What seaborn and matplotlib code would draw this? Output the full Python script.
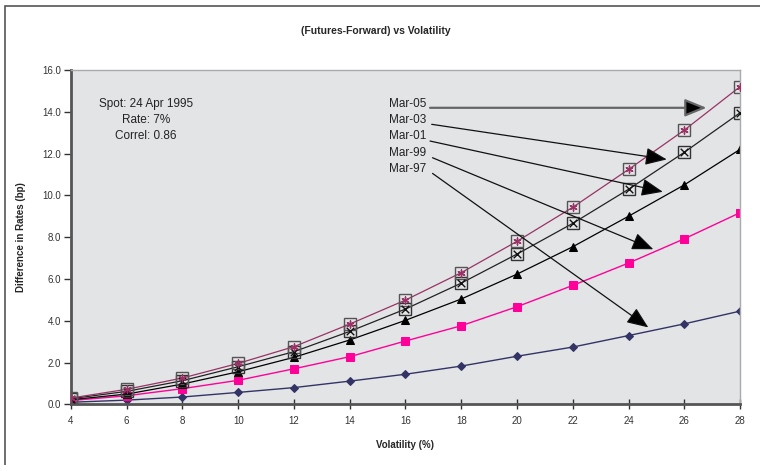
import matplotlib
matplotlib.use("Agg")
import matplotlib.pyplot as plt
from matplotlib.patches import Rectangle
import seaborn as sns

# Volatility levels (%) on the x axis
volatility = [4, 6, 8, 10, 12, 14, 16, 18, 20, 22, 24, 26, 28]

# Futures-forward rate difference (bp) per contract month
mar97 = [0.10, 0.20, 0.35, 0.57, 0.80, 1.11, 1.44, 1.83, 2.30, 2.74, 3.29, 3.85, 4.46]
mar99 = [0.18, 0.41, 0.75, 1.15, 1.70, 2.28, 3.03, 3.76, 4.67, 5.69, 6.76, 7.92, 9.17]
mar01 = [0.22, 0.49, 0.97, 1.56, 2.25, 3.08, 4.02, 5.04, 6.23, 7.54, 9.00, 10.50, 12.20]
mar03 = [0.27, 0.62, 1.13, 1.80, 2.52, 3.49, 4.56, 5.80, 7.19, 8.66, 10.29, 12.06, 13.95]
mar05 = [0.30, 0.72, 1.26, 1.96, 2.76, 3.84, 4.99, 6.30, 7.80, 9.43, 11.24, 13.12, 15.20]

contracts = ["Mar-05", "Mar-03", "Mar-01", "Mar-99", "Mar-97"]
info_lines = ["Spot: 24 Apr 1995", "Rate: 7%", "Correl: 0.86"]
y_ticks = [0, 2, 4, 6, 8, 10, 12, 14, 16]

sns.set_theme(style="white")
plt.rcParams["font.family"] = ["Liberation Sans", "DejaVu Sans"]

fig = plt.figure(figsize=(7.6, 4.65), dpi=100)
ax = fig.add_axes([0.0934, 0.1305, 0.8803, 0.719])
ax.set_facecolor("#E3E4E6")

# outer chart frame
fig.patches.append(Rectangle((5 / 760, -0.05), 1.1, 1 - 6 / 465 + 0.05,
                             transform=fig.transFigure, fill=False,
                             edgecolor="#555555", linewidth=1.2))

# Mar-97: navy diamonds
sns.lineplot(x=volatility, y=mar97, ax=ax, color="#333366", linewidth=1.0,
             marker="D", markersize=4.5, markeredgecolor="#333366")
# Mar-99: magenta squares
sns.lineplot(x=volatility, y=mar99, ax=ax, color="#FF0099", linewidth=1.0,
             marker="s", markersize=5.5, markeredgecolor="#FF0099")
# Mar-01: black triangles
sns.lineplot(x=volatility, y=mar01, ax=ax, color="black", linewidth=0.9,
             marker="^", markersize=5.5, markeredgecolor="black")
# Mar-03: boxed crosses
sns.lineplot(x=volatility, y=mar03, ax=ax, color="#222222", linewidth=0.9,
             marker="s", markersize=8.5, markerfacecolor="none",
             markeredgecolor="#333333", markeredgewidth=1.0)
sns.scatterplot(x=volatility, y=mar03, ax=ax, marker="x", s=30,
                color="#111111", linewidth=1.0, zorder=5)
# Mar-05: boxed asterisks
sns.lineplot(x=volatility, y=mar05, ax=ax, color="#993366", linewidth=0.9,
             marker="s", markersize=8.5, markerfacecolor="none",
             markeredgecolor="#555555", markeredgewidth=1.0)
sns.scatterplot(x=volatility, y=mar05, ax=ax, marker=(6, 2, 0), s=26,
                color="#993366", edgecolor="#993366", linewidth=1.0, zorder=5)

ax.set_xlim(4, 28)
ax.set_ylim(0, 16)
ax.set_xticks(volatility)
ax.set_xticklabels([str(v) for v in volatility])
ax.set_yticks(y_ticks)
ax.set_yticklabels([f"{v:.1f}" for v in y_ticks])
ax.tick_params(axis="y", direction="out", length=5, width=1.0, color="#333333",
               labelsize=7, labelcolor="#333333", pad=2, left=True)
ax.tick_params(axis="x", direction="inout", length=7, width=1.0, color="#333333",
               labelsize=7, labelcolor="#333333", pad=5, bottom=True)

for side in ["left", "bottom"]:
    ax.spines[side].set_color("#555555")
    ax.spines[side].set_linewidth(2.0)
for side in ["top", "right"]:
    ax.spines[side].set_color("#AAAAAA")
    ax.spines[side].set_linewidth(1.0)

ax.set_xlabel("Volatility (%)", fontsize=7, fontweight="bold", labelpad=10)
ax.set_ylabel("Difference in Rates (bp)", fontsize=7, fontweight="bold", labelpad=12)
fig.text(376 / 760, 1 - 31 / 465, "(Futures-Forward) vs Volatility",
         ha="center", va="center", fontsize=7.5, fontweight="bold")

# market parameters
info_y = [14.35, 13.60, 12.84]
for i, line in enumerate(info_lines):
    ax.text(6.69, info_y[i], line, ha="center", va="center",
            fontsize=8.5, color="#222222")

# contract labels with arrows pointing at the curves
label_y = [14.35, 13.60, 12.84, 12.04, 11.24]
starts = [(16.88, 14.19), (16.94, 13.40), (16.88, 12.60), (16.97, 11.80), (16.97, 11.05)]
tips = [(26.80, 14.19), (25.37, 11.72), (25.23, 10.17), (24.89, 7.42), (24.71, 3.68)]
for k, name in enumerate(contracts):
    ax.text(15.41, label_y[k], name, ha="left", va="center", fontsize=8.5,
            color="#222222")
    shaft = "#666666" if k == 0 else "#111111"
    lw = 1.6 if k == 0 else 0.9
    ax.annotate("", xy=tips[k], xytext=starts[k],
                arrowprops=dict(arrowstyle="-|>,head_length=1.1,head_width=0.45",
                                mutation_scale=12, facecolor="black",
                                edgecolor=shaft, linewidth=lw,
                                shrinkA=0, shrinkB=0), zorder=6)

fig.savefig("out.png", dpi=100, facecolor="white")
